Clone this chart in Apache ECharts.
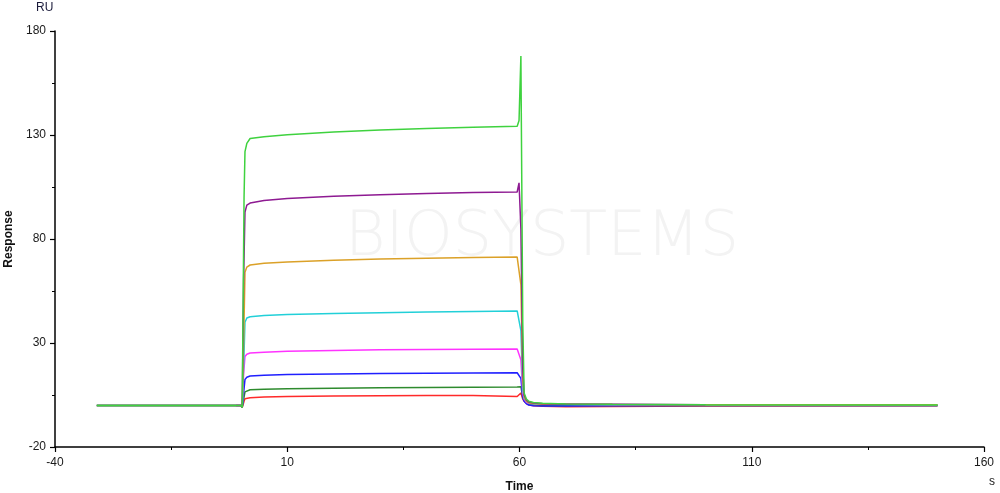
<!DOCTYPE html>
<html>
<head>
<meta charset="utf-8">
<script src="https://cdn.jsdelivr.net/npm/echarts@6/dist/echarts.min.js"></script>
<style>html,body{margin:0;padding:0;background:#fff}#c{width:1000px;height:493px}</style>
</head>
<body>
<div id="c"></div>
<script>
// Tick labels
var xTicks = [-40, 10, 60, 110, 160];
var yTicks = [-20, 30, 80, 130, 180];
var seriesNames = ['red', 'darkgreen', 'blue', 'magenta', 'cyan', 'orange', 'purple', 'green'];
var seriesColors = ['#ff2a2a', '#2e8b2e', '#1f1fff', '#ff33ff', '#22d0d8', '#dba128', '#8e1a92', '#3fd23f'];

// Shared time points (s)
var timeShort = [-1, 0, 0.3, 0.6, 0.9, 1.3, 2, 5, 10, 20, 30, 40, 50, 59.5, 59.9, 60.3, 60.7, 61, 61.5, 62, 63, 65, 70, 80, 90, 100];
var timeLong  = [-31, 0, 0.3, 0.7, 0.9, 1.3, 2, 5, 10, 20, 30, 40, 50, 59.5, 59.9, 60.3, 60.7, 61, 61.5, 62, 63, 65, 70, 80, 100, 150];

// Response values (RU)
var redVals       = [0, 0, -1, 2, 3.2, 3.5, 3.7, 4.0, 4.3, 4.5, 4.6, 4.7, 4.7, 4.3, 3.8, 6, 3, 2, 1, 0.3, -0.2, -0.4, -0.6, -0.5, -0.3, -0.2];
var darkGreenVals = [0, 0, -1, 4, 6.5, 7.2, 7.5, 7.8, 8.0, 8.3, 8.5, 8.6, 8.7, 8.8, 8.8, 9, 4, 2.5, 1.5, 0.8, 0.3, 0, -0.1, 0, 0, 0];
var blueVals      = [0, 0, -1, 8, 12.5, 13.5, 14.1, 14.5, 14.8, 15.1, 15.3, 15.5, 15.6, 15.7, 15.2, 13, 4, 2, 0.8, 0.2, -0.2, -0.3, -0.3, -0.2, -0.1, 0];
var magentaVals   = [0, 0, -1, 15, 23.5, 24.6, 25.2, 25.6, 26.0, 26.4, 26.7, 26.9, 27.0, 27.1, 26.5, 22, 6, 3, 1.5, 1, 0.8, 0.6, 0.5, 0.4, 0.3, 0.3];
var cyanVals      = [0, 0, -1, 25, 40, 42, 42.6, 43.2, 43.7, 44.2, 44.6, 44.9, 45.2, 45.4, 45, 36, 8, 3.5, 1.8, 1.2, 0.8, 0.5, 0.4, 0.3, 0.2, 0.2];
var orangeVals    = [0, 0, -1, 40, 64, 66.5, 67.5, 68.3, 69.0, 69.8, 70.4, 70.8, 71.1, 71.3, 72, 58, 12, 4, 2, 1.3, 0.9, 0.6, 0.5, 0.4, 0.3, 0.3];
var purpleVals    = [0, 0, -1, 60, 93, 96.3, 97.3, 98.5, 99.5, 100.5, 101.3, 101.9, 102.3, 102.6, 107, 85, 18, 5, 2.5, 1.6, 1.2, 0.8, 0.6, 0.5, 0.4, 0.3];
var greenVals     = [0, 0, -1, 100, 122, 126, 128.3, 129.2, 130.1, 131.4, 132.4, 133.1, 133.7, 134.2, 137, 168, 40, 6, 3, 2, 1.4, 1, 0.7, 0.5, 0.3, 0.2];

var allVals = [redVals, darkGreenVals, blueVals, magentaVals, cyanVals, orangeVals, purpleVals, greenVals];
var allTimes = [timeLong, timeLong, timeLong, timeShort, timeLong, timeLong, timeShort, timeLong];

function pairs(t, v) { return t.map(function (x, i) { return [x, v[i]]; }); }

var series = allVals.map(function (v, i) {
  return {
    name: seriesNames[i],
    type: 'line',
    data: pairs(allTimes[i], v),
    showSymbol: false,
    symbol: 'none',
    smooth: false,
    lineStyle: { color: seriesColors[i], width: 1.5 },
    itemStyle: { color: seriesColors[i] },
    animation: false,
    z: 2 + i
  };
});

var chart = echarts.init(document.getElementById('c'), null, { renderer: 'canvas' });
chart.setOption({
  backgroundColor: '#ffffff',
  animation: false,
  grid: { left: 55, right: 16, top: 31, bottom: 46, containLabel: false, outerBoundsMode: 'none' },
  graphic: [
    { type: 'text', left: 345, top: 208, silent: true, z: 0,
      style: { text: 'BIOSYSTEMS', fill: '#f3f3f3', font: 'lighter 62px "DejaVu Sans", sans-serif', letterSpacing: 4 } },
    { type: 'text', left: 36, top: 2, style: { text: 'RU', fill: '#1a1a3a', font: '12px "Liberation Sans", Arial, sans-serif' } },
    { type: 'text', left: 989, top: 476, style: { text: 's', fill: '#1a1a1a', font: '12px "Liberation Sans", Arial, sans-serif' } }
  ],
  xAxis: {
    type: 'value', min: -40, max: 160, interval: 50,
    name: 'Time', nameLocation: 'middle', nameGap: 34,
    nameTextStyle: { color: '#111', fontWeight: 'bold', fontSize: 12, fontFamily: '"Liberation Sans", Arial, sans-serif' },
    axisLine: { show: true, onZero: false, lineStyle: { color: '#000', width: 1.5 } },
    axisTick: { show: true, length: 5, lineStyle: { color: '#000', width: 1.2 } },
    minorTick: { show: true, splitNumber: 2, length: 3, lineStyle: { color: '#000' } },
    splitLine: { show: false },
    axisLabel: { color: '#1a1a1a', fontSize: 12, margin: 10, fontFamily: '"Liberation Sans", Arial, sans-serif',
      formatter: function (v) { return xTicks.indexOf(v) >= 0 ? String(v) : ''; } }
  },
  yAxis: {
    type: 'value', min: -20, max: 180, interval: 50,
    name: 'Response', nameLocation: 'middle', nameGap: 34, nameRotate: 90,
    nameTextStyle: { color: '#111', fontWeight: 'bold', fontSize: 12, fontFamily: '"Liberation Sans", Arial, sans-serif' },
    axisLine: { show: true, onZero: false, lineStyle: { color: '#000', width: 1.5 } },
    axisTick: { show: true, length: 5, lineStyle: { color: '#000', width: 1.2 } },
    minorTick: { show: true, splitNumber: 2, length: 3, lineStyle: { color: '#000' } },
    splitLine: { show: false },
    axisLabel: { color: '#1a1a1a', fontSize: 12, margin: 9, fontFamily: '"Liberation Sans", Arial, sans-serif',
      formatter: function (v) { return yTicks.indexOf(v) >= 0 ? String(v) : ''; } }
  },
  series: series
});
</script>
</body>
</html>
